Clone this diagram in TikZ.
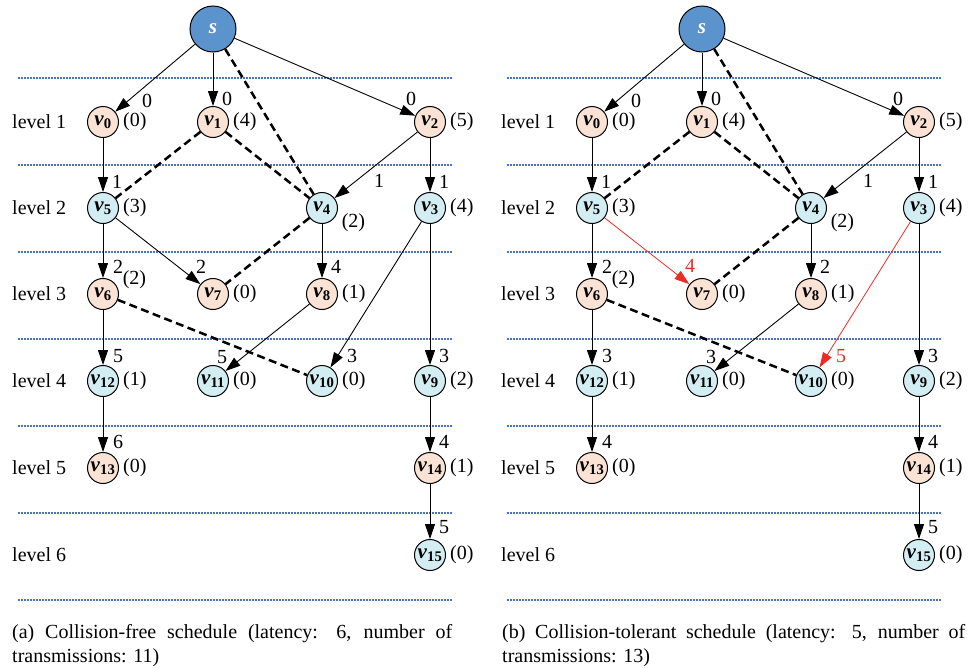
\documentclass[tikz,border=0pt]{standalone}
\usepackage{fontspec}
\setmainfont{Liberation Serif}
\usetikzlibrary{arrows.meta}
\definecolor{sblue}{HTML}{5B93CC}
\definecolor{peach}{HTML}{FAE3D4}
\definecolor{lcyan}{HTML}{D3EEF2}
\definecolor{lvlblue}{HTML}{4A72C4}
\definecolor{hired}{HTML}{EE2A24}
\newcommand{\vsub}[1]{\textbf{\textit{v}}\textsubscript{\textbf{#1}}}
\tikzset{
  vnode/.style={circle,draw,line width=1pt,minimum size=31pt,inner sep=0pt,font=\fontsize{21}{24}\selectfont},
  snode/.style={circle,draw,fill=sblue,line width=1pt,minimum size=46pt,inner sep=0pt,text=white,font=\fontsize{21}{24}\selectfont\bfseries\itshape},
  arr/.style={-{Triangle[length=15pt,width=10pt]},line width=0.9pt},
  redarr/.style={arr,color=hired,line width=0.8pt},
  coll/.style={line width=2.5pt,dash pattern=on 8pt off 4.5pt},
  lvl/.style={lvlblue,line width=2pt,dash pattern=on 2pt off 1pt},
}
\begin{document}
\begin{tikzpicture}[x=1pt,y=-1pt,font=\fontsize{20}{24}\selectfont]
\useasboundingbox (0,0) rectangle (969,667);
\foreach \p/\dx in {a/0,b/489}{
  \begin{scope}[xshift=\dx pt]
  \foreach \yy in {78,165,252,339,426,513,600}
    \draw[lvl] (18,\yy) -- (452,\yy);
  \foreach \yy/\k in {122/1,208/2,294/3,381/4,468/5,555/6}
    \node[anchor=west,inner sep=0pt] (\p lvl\k) at (12,\yy) {level \k};
  \node[snode] (\p s) at (213,29) {s};
  \foreach \n/\xx/\yy/\c/\cnt/\ang in {0/103/122/peach/0/0, 1/213/122/peach/4/0, 2/430/122/peach/5/0,
      5/103/208/lcyan/3/0, 4/322/208/lcyan/2/-12, 3/430/208/lcyan/4/0,
      6/103/294/peach/2/12, 7/213/294/peach/0/0, 8/322/294/peach/1/0,
      12/103/381/lcyan/1/0, 11/213/381/lcyan/0/0, 10/322/381/lcyan/0/0, 9/430/381/lcyan/2/0,
      13/103/468/peach/0/0, 14/430/468/peach/1/0, 15/430/555/lcyan/0/0}
    \node[vnode,fill=\c,label={[inner sep=1pt,label distance=3pt,font=\fontsize{20}{24}\selectfont]\ang:(\cnt)}] (\p\n) at (\xx,\yy) {\vsub{\n}};
  \foreach \u/\w in {s/4,1/5,1/4,4/7,6/10}
    \draw[coll] (\p\u) -- (\p\w);
  \end{scope}
}
\foreach \u/\w/\t/\dx/\dy in {s/0/0/44/-21, s/1/0/14/-23, s/2/0/-19/-23, 0/5/1/14/-26, 2/4/1/57/-27, 2/3/1/14/-26,
    5/6/2/15/-27, 5/7/2/-12/-27, 4/8/4/14/-27, 6/12/5/15/-25, 8/11/5/9/-24, 3/10/3/30/-25, 3/9/3/14/-25,
    12/13/6/15/-26, 9/14/4/14/-26, 14/15/5/14/-28}
  \draw[arr] (a\u) -- (a\w) node[inner sep=0pt] (ae\w) at ([shift={(\dx,\dy)}]a\w) {\t};
\foreach \u/\w/\t/\dx/\dy/\st in {s/0/0/44/-21/arr, s/1/0/14/-23/arr, s/2/0/-21/-23/arr, 0/5/1/14/-26/arr, 2/4/1/57/-27/arr, 2/3/1/14/-26/arr,
    5/6/2/15/-27/arr, 5/7/4/-12/-28/redarr, 4/8/2/14/-27/arr, 6/12/3/15/-25/arr, 8/11/3/9/-24/arr, 3/10/5/30/-25/redarr, 3/9/3/14/-25/arr,
    12/13/4/15/-26/arr, 9/14/4/14/-26/arr, 14/15/5/14/-28/arr}
  \draw[\st] (b\u) -- (b\w) node[inner sep=0pt] (be\w) at ([shift={(\dx,\dy)}]b\w) {\t};
\node[anchor=base west,inner sep=0pt] (capa1) at (12,638) {\makebox[440pt][s]{(a) Collision-free schedule (latency: 6, number of}};
\node[anchor=base west,inner sep=0pt] (capa2) at (12,662) {transmissions: 11)};
\node[anchor=base west,inner sep=0pt] (capb1) at (502,638) {\makebox[463pt][s]{(b) Collision-tolerant schedule (latency: 5, number of}};
\node[anchor=base west,inner sep=0pt] (capb2) at (502,662) {transmissions: 13)};
\end{tikzpicture}
\end{document}
